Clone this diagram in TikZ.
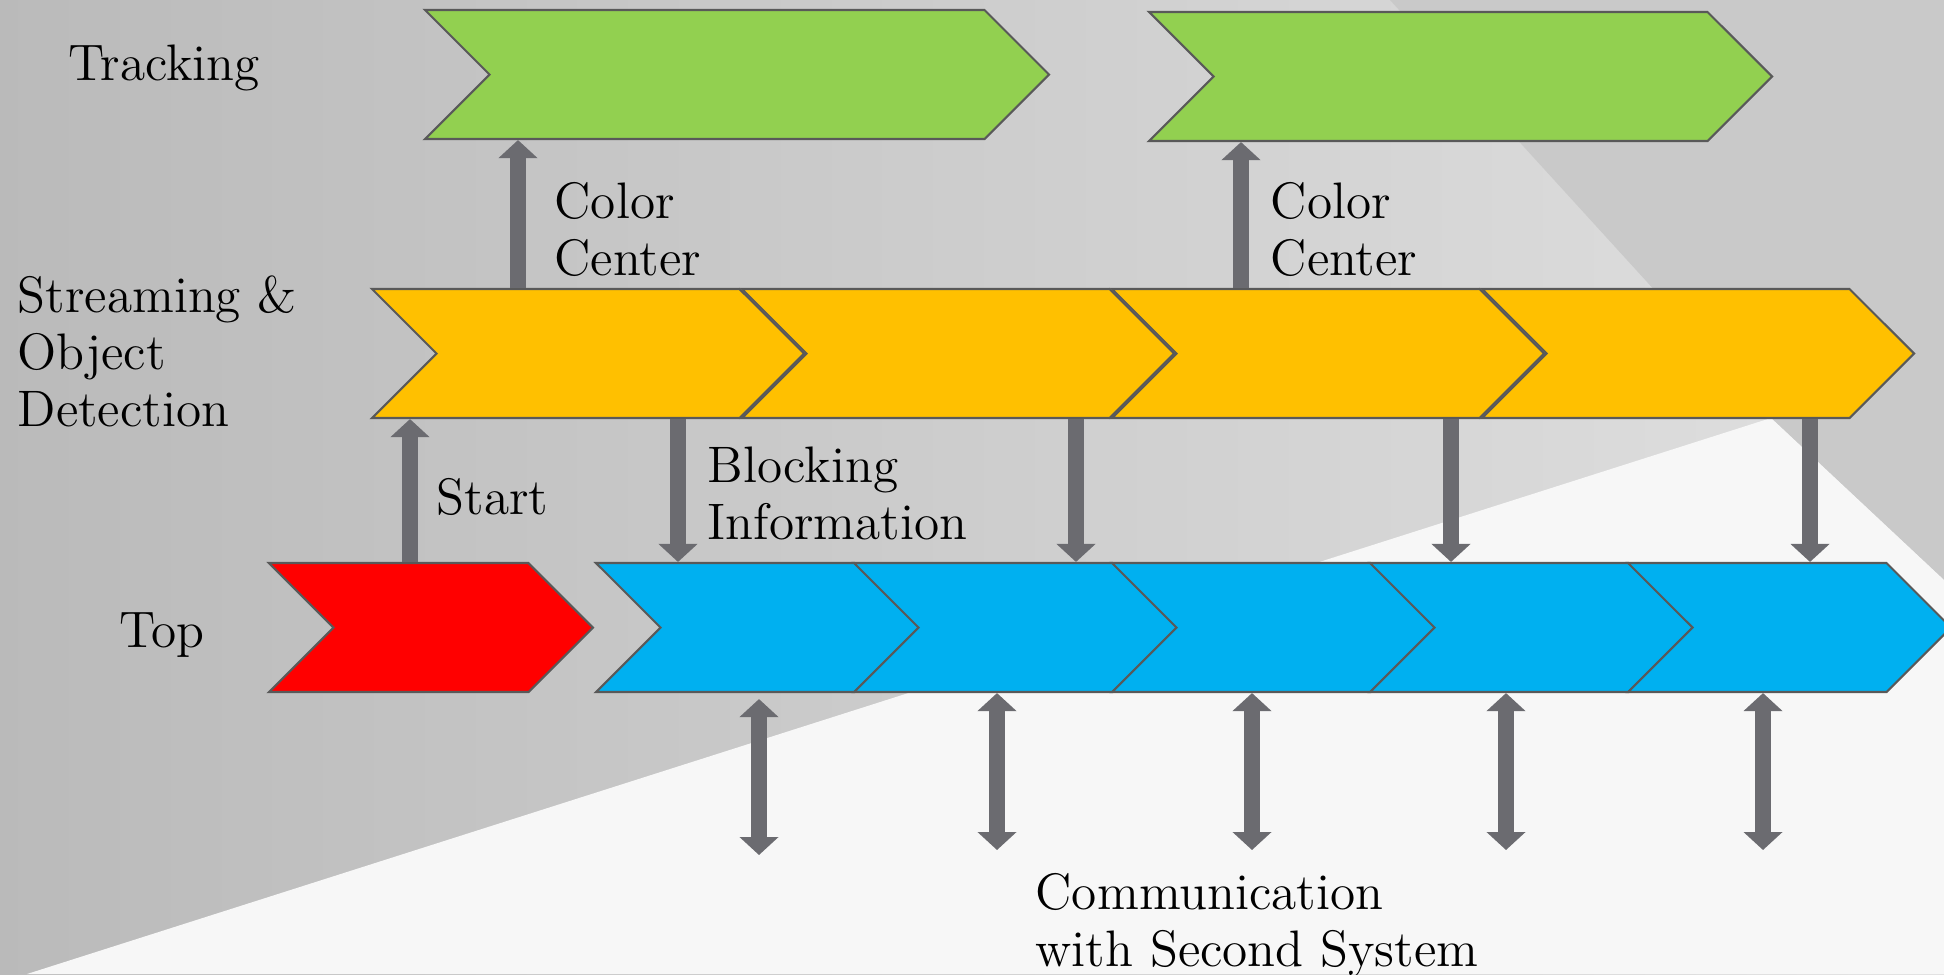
\documentclass[tikz,border=0pt]{standalone}
\usetikzlibrary{shapes.symbols,arrows.meta}
\definecolor{trackgreen}{HTML}{92D050}
\definecolor{streamorange}{HTML}{FFC000}
\definecolor{topred}{HTML}{FF0000}
\definecolor{topblue}{HTML}{00B0F0}
\definecolor{edgegray}{HTML}{595959}
\definecolor{arrowgray}{HTML}{6B6B70}
\tikzset{
  chevron/.style={signal, signal to=east, signal from=west, signal pointer angle=90,
    draw=edgegray, line width=0.6pt, fill=#1, minimum height=12.9mm, inner sep=0pt},
  flow/.style={draw=arrowgray, line width=1.6mm,
    -{Triangle[width=3.8mm,length=1.8mm]}},
  twoway/.style={draw=arrowgray, line width=1.6mm,
    {Triangle[width=3.8mm,length=1.8mm]}-{Triangle[width=3.8mm,length=1.8mm]}},
  lbl/.style={anchor=west, inner sep=0pt, align=left,
    font=\fontsize{14.6}{16.2}\selectfont}
}
\begin{document}
\begin{tikzpicture}[x=0.1mm,y=-0.1mm]
\useasboundingbox (0,0) rectangle (1944,974);
% background
\shade[left color=black!27, right color=black!12] (0,0) rectangle (1944,974);
\fill[black!21] (1390,0) -- (1944,0) -- (1944,580) -- (1771,418) -- cycle;
\fill[black!3] (27,974) -- (1771,418) -- (1944,580) -- (1944,974) -- cycle;

% tracking
\node[chevron=trackgreen, minimum width=62.4mm] (g1) at (737,74.5){};
\node[chevron=trackgreen, minimum width=62.3mm] (g2) at (1460.5,76.5){};
% streaming
\node[chevron=streamorange, minimum width=43.2mm] (o1) at (588,353.5){};
\node[chevron=streamorange, minimum width=43.2mm] (o2) at (958,353.5){};
\node[chevron=streamorange, minimum width=43.2mm] (o3) at (1328,353.5){};
\node[chevron=streamorange, minimum width=43.2mm] (o4) at (1698,353.5){};
% top
\node[chevron=topred, minimum width=32.4mm] (r) at (431,627.5){};
\node[chevron=topblue, minimum width=32.3mm] (b1) at (757.5,627.5){};
\node[chevron=topblue, minimum width=32.3mm] (b2) at (1015.5,627.5){};
\node[chevron=topblue, minimum width=32.3mm] (b3) at (1273.5,627.5){};
\node[chevron=topblue, minimum width=32.3mm] (b4) at (1531.5,627.5){};
\node[chevron=topblue, minimum width=32.3mm] (b5) at (1789.5,627.5){};

\node[lbl] (track) at (68,68){Tracking};
\node[lbl] (stream) at (17,351){Streaming \&\\Object\\Detection};
\node[lbl] (top) at (119,635){Top};
\node[lbl] (cc1) at (554,229){Color\\Center};
\node[lbl] (cc2) at (1270,229){Color\\Center};
\node[lbl] (start) at (436,497){Start};
\node[lbl] (block) at (707,493){Blocking\\Information};
\node[lbl] (comm) at (1035,925){Communication\\with Second System};

\draw[flow] (o1.north -| 518,0) -- (g1.south -| 518,0);
\draw[flow] (o3.north -| 1241,0) -- (g2.south -| 1241,0);
\draw[flow] (r.north -| 410,0) -- (o1.south -| 410,0);
\draw[flow] (o1.south -| 678,0) -- (b1.north -| 678,0);
\draw[flow] (o2.south -| 1076,0) -- (b2.north -| 1076,0);
\draw[flow] (o3.south -| 1451,0) -- (b4.north -| 1451,0);
\draw[flow] (o4.south -| 1810,0) -- (b5.north -| 1810,0);

\coordinate (cm1) at (759,855);
\coordinate (cm2) at (997,850);
\coordinate (cm3) at (1252,850);
\coordinate (cm4) at (1506,850);
\coordinate (cm5) at (1763,850);
\draw[twoway] ([yshift=-0.6mm]b1.south -| cm1) -- (cm1);
\draw[twoway] (b2.south -| cm2) -- (cm2);
\draw[twoway] (b3.south -| cm3) -- (cm3);
\draw[twoway] (b4.south -| cm4) -- (cm4);
\draw[twoway] (b5.south -| cm5) -- (cm5);
\end{tikzpicture}
\end{document}
